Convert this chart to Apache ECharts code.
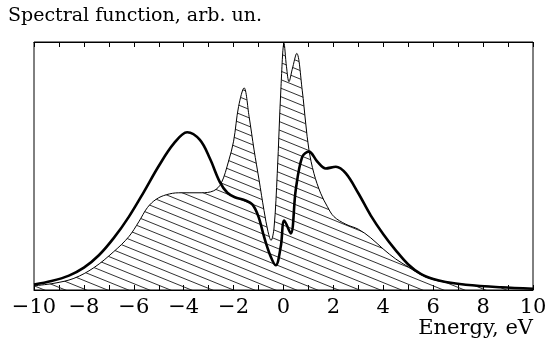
<!DOCTYPE html>
<html>
<head>
<meta charset="utf-8">
<script src="https://cdn.jsdelivr.net/npm/echarts@6/dist/echarts.min.js"></script>
<style>
  html, body { margin: 0; padding: 0; background: #fff; }
  #chart { width: 560px; height: 353px; }
</style>
</head>
<body>
<div id="chart"></div>
<script>
// hatched curve (thin line)
const dosEnergy = [-10, -9.2, -8.4, -7.6, -6.8, -6.2, -5.8, -5.45, -5.1, -4.7, -4.2, -3.3, -2.8, -2.5, -2.2, -2.0, -1.8, -1.58, -1.38, -1.18, -0.98, -0.78, -0.62, -0.5, -0.38, -0.25, -0.1, 0.02, 0.12, 0.22, 0.35, 0.53, 0.75, 0.89, 1.02, 1.22, 1.49, 1.76, 2.02, 2.5, 3.0, 3.5, 4.0, 4.5, 5.0, 5.5, 6.0, 6.5, 7.0, 7.5, 8.0, 9.0, 10]
const dosValues = [0.017, 0.027, 0.047, 0.09, 0.155, 0.215, 0.275, 0.333, 0.366, 0.384, 0.392, 0.392, 0.40, 0.43, 0.52, 0.60, 0.74, 0.815, 0.70, 0.565, 0.444, 0.32, 0.235, 0.2, 0.25, 0.47, 0.82, 0.995, 0.9, 0.84, 0.89, 0.954, 0.806, 0.672, 0.565, 0.47, 0.39, 0.336, 0.296, 0.265, 0.245, 0.21, 0.165, 0.125, 0.093, 0.062, 0.042, 0.031, 0.025, 0.02, 0.016, 0.01, 0.005]

// thick curve
const specEnergy = [-10, -9.3, -8.6, -8.0, -7.4, -6.8, -6.2, -5.6, -5.0, -4.4, -3.86, -3.35, -2.95, -2.55, -2.25, -1.95, -1.55, -1.25, -1.0, -0.78, -0.51, -0.31, -0.11, 0.03, 0.29, 0.49, 0.75, 1.02, 1.36, 1.69, 2.1, 2.5, 3.0, 3.5, 4.0, 4.5, 5.0, 5.5, 6.0, 6.5, 7.3, 8.7, 10]
const specValues = [0.022, 0.036, 0.058, 0.09, 0.14, 0.21, 0.295, 0.395, 0.5, 0.59, 0.636, 0.605, 0.53, 0.435, 0.392, 0.374, 0.362, 0.345, 0.295, 0.215, 0.134, 0.10, 0.175, 0.28, 0.228, 0.403, 0.537, 0.558, 0.517, 0.49, 0.497, 0.47, 0.39, 0.30, 0.225, 0.16, 0.103, 0.065, 0.044, 0.032, 0.021, 0.011, 0.005]

const tickLabels = [-10, -8, -6, -4, -2, 0, 2, 4, 6, 8, 10]

const serif = 'DejaVu Serif'

function hatch() {
  const w = 42, h = 17, step = 8.5
  const c = document.createElement('canvas')
  c.width = w
  c.height = h
  const ctx = c.getContext('2d')
  ctx.strokeStyle = '#1a1a1a'
  ctx.lineWidth = 0.9
  for (let k = -3; k <= 3; k++) {
    ctx.beginPath()
    ctx.moveTo(-2, (h / w) * -2 + k * step)
    ctx.lineTo(w + 2, (h / w) * (w + 2) + k * step)
    ctx.stroke()
  }
  return c
}

const chart = echarts.init(document.getElementById('chart'))

const xCommon = {
  type: 'value',
  min: -10,
  max: 10,
  interval: 1,
  axisLine: { show: true, onZero: false, lineStyle: { color: '#000', width: 1 } },
  axisTick: { show: true, inside: true, length: 5, lineStyle: { color: '#000', width: 1 } },
  splitLine: { show: false },
}

chart.setOption({
  animation: false,
  backgroundColor: '#fff',
  title: {
    text: 'Spectral function, arb. un.',
    left: 3,
    top: 2,
    textStyle: { fontFamily: serif, fontSize: 19, fontWeight: 'normal', color: '#000' },
  },
  grid: { left: 34, right: 27, top: 42, bottom: 63, show: true, borderColor: '#000', borderWidth: 1 },
  xAxis: [
    {
      ...xCommon,
      position: 'bottom',
      axisLabel: {
        margin: 7,
        color: '#000',
        fontFamily: serif,
        fontSize: 21,
        formatter: v => tickLabels.includes(v) ? String(v).replace('-', '\u2212') : '',
      },
    },
    { ...xCommon, position: 'top', axisLabel: { show: false } },
  ],
  yAxis: {
    type: 'value',
    min: 0,
    max: 1,
    axisLine: { show: false, onZero: false },
    axisTick: { show: false },
    axisLabel: { show: false },
    splitLine: { show: false },
  },
  graphic: [{
    type: 'text',
    right: 27,
    top: 318,
    style: { text: 'Energy, eV', font: `21px "${serif}"`, fill: '#000' },
  }],
  series: [
    {
      type: 'line',
      xAxisIndex: 0,
      data: dosEnergy.map((e, i) => [e, dosValues[i]]),
      smooth: 0.35,
      symbol: 'none',
      lineStyle: { color: '#000', width: 1 },
      areaStyle: { color: { image: hatch(), repeat: 'repeat' }, opacity: 1 },
      z: 2,
    },
    {
      type: 'line',
      xAxisIndex: 0,
      data: specEnergy.map((e, i) => [e, specValues[i]]),
      smooth: 0.35,
      symbol: 'none',
      lineStyle: { color: '#000', width: 2.6 },
      z: 3,
    },
  ],
})
</script>
</body>
</html>
